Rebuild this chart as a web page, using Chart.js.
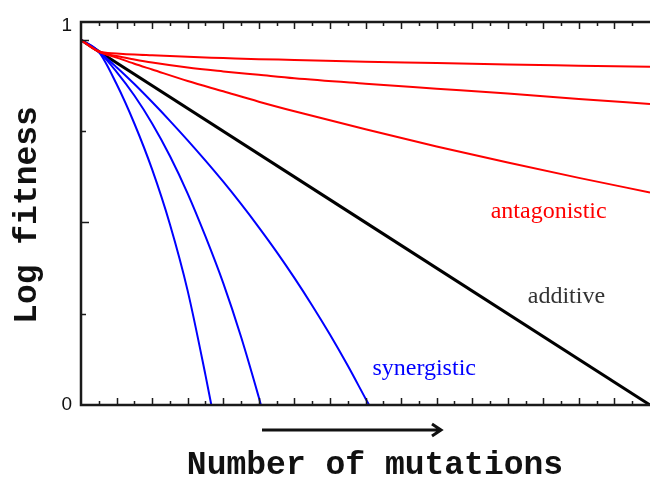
<!DOCTYPE html>
<html>
<head>
<meta charset="utf-8">
<script src="https://cdn.jsdelivr.net/npm/chart.js@4"></script>
<style>
  body { margin: 0; background: #fff; overflow: hidden; }
  #wrap { width: 650px; height: 477px; position: relative; }
</style>
</head>
<body>
<div id="wrap"><canvas id="fitness"></canvas></div>
<script>
// log fitness vs number of mutations
const antagX      = [0, 1, 2, 3, 4, 6, 8, 10, 12, 16, 20, 24, 28, 32];
const antagWeak   = [0.953, 0.923, 0.918, 0.915, 0.913, 0.909, 0.906, 0.903, 0.901, 0.896, 0.893, 0.889, 0.886, 0.883];
const antagMid    = [0.953, 0.923, 0.911, 0.902, 0.894, 0.881, 0.871, 0.862, 0.853, 0.839, 0.826, 0.813, 0.799, 0.786];
const antagStrong = [0.953, 0.923, 0.907, 0.891, 0.876, 0.846, 0.819, 0.792, 0.767, 0.720, 0.675, 0.633, 0.593, 0.555];

const additiveX = [0, 32];
const additiveY = [0.953, 0];

const synStrongX = [0, 1, 2, 3, 4, 5, 6, 7, 7.33];
const synStrongY = [0.953, 0.922, 0.838, 0.735, 0.615, 0.472, 0.298, 0.078, 0];
const synMidX    = [0, 1, 2, 3, 4, 5, 6, 7, 8, 9, 10, 10.12];
const synMidY    = [0.953, 0.922, 0.870, 0.808, 0.735, 0.650, 0.552, 0.440, 0.318, 0.178, 0.020, 0];
const synWeakX   = [0, 1, 2, 3, 4, 5, 6, 7, 8, 9, 10, 11, 12, 13, 14, 15, 16, 16.2];
const synWeakY   = [0.953, 0.922, 0.882, 0.838, 0.791, 0.742, 0.691, 0.638, 0.583, 0.525, 0.464, 0.400, 0.332, 0.260, 0.184, 0.103, 0.017, 0];

const yTickLabels = ['0', '1'];
const yMinorTicks = [0.238, 0.477, 0.715, 0.953];
const curveLabels = ['antagonistic', 'additive', 'synergistic'];

const RED = '#ff0000';
const BLUE = '#0000ff';

const pts = (xs, ys) => xs.map((x, i) => ({ x: x, y: ys[i] }));

function line(xs, ys, color, width) {
  return {
    data: pts(xs, ys),
    borderColor: color,
    borderWidth: width,
    pointRadius: 0,
    cubicInterpolationMode: 'monotone',
    fill: false
  };
}

// frame, inward ticks, axis text and curve labels
const decorations = {
  id: 'decorations',
  afterDatasetsDraw(chart) {
    const { ctx, chartArea: a, scales: { x, y } } = chart;
    ctx.save();
    ctx.strokeStyle = '#1a1a1a';
    ctx.lineWidth = 2.5;
    ctx.beginPath();
    ctx.moveTo(a.right + 2, a.top);
    ctx.lineTo(a.left, a.top);
    ctx.lineTo(a.left, a.bottom);
    ctx.lineTo(a.right + 2, a.bottom);
    ctx.stroke();

    ctx.lineWidth = 1.5;
    ctx.beginPath();
    for (let v = 1; v < 32; v++) {
      const px = Math.round(x.getPixelForValue(v)) + 0.5;
      const len = v % 2 ? 4 : 7;
      ctx.moveTo(px, a.top);
      ctx.lineTo(px, a.top + len);
      ctx.moveTo(px, a.bottom);
      ctx.lineTo(px, a.bottom - len);
    }
    yMinorTicks.forEach((v, i) => {
      const py = Math.round(y.getPixelForValue(v)) + 0.5;
      const len = i % 2 ? 8 : 5;
      ctx.moveTo(a.left, py);
      ctx.lineTo(a.left + len, py);
    });
    ctx.stroke();

    ctx.fillStyle = '#111';
    ctx.font = '19px "Liberation Sans", Arial, sans-serif';
    ctx.textAlign = 'right';
    ctx.textBaseline = 'middle';
    ctx.fillText(yTickLabels[0], a.left - 9, y.getPixelForValue(0));
    ctx.fillText(yTickLabels[1], a.left - 9, y.getPixelForValue(1) + 4);

    ctx.font = 'bold 33px "Liberation Mono", "Courier New", monospace';
    ctx.textAlign = 'center';
    ctx.fillText('Number of mutations', 375, 466);
    ctx.save();
    ctx.translate(28, 215);
    ctx.rotate(-Math.PI / 2);
    ctx.fillText('Log fitness', 0, 0);
    ctx.restore();

    // direction arrow under the x axis
    ctx.strokeStyle = '#111';
    ctx.lineWidth = 3;
    ctx.beginPath();
    ctx.moveTo(262, 430);
    ctx.lineTo(441, 430);
    ctx.moveTo(432, 424);
    ctx.lineTo(441, 430);
    ctx.lineTo(432, 436);
    ctx.stroke();

    ctx.font = '24px "Liberation Serif", "Times New Roman", serif';
    ctx.fillStyle = RED;
    ctx.fillText(curveLabels[0], x.getPixelForValue(26.3), y.getPixelForValue(0.504));
    ctx.fillStyle = '#333';
    ctx.fillText(curveLabels[1], x.getPixelForValue(27.3), y.getPixelForValue(0.282));
    ctx.fillStyle = BLUE;
    ctx.fillText(curveLabels[2], x.getPixelForValue(19.3), y.getPixelForValue(0.094));
    ctx.restore();
  }
};

new Chart(document.getElementById('fitness'), {
  type: 'line',
  data: {
    datasets: [
      line(antagX, antagWeak, RED, 2),
      line(antagX, antagMid, RED, 2),
      line(antagX, antagStrong, RED, 2),
      line(synStrongX, synStrongY, BLUE, 2),
      line(synMidX, synMidY, BLUE, 2),
      line(synWeakX, synWeakY, BLUE, 2),
      line(additiveX, additiveY, '#000', 3)
    ]
  },
  options: {
    responsive: true,
    maintainAspectRatio: false,
    animation: false,
    layout: { padding: { left: 81, top: 22, right: 0, bottom: 72 } },
    plugins: { legend: { display: false }, tooltip: { enabled: false } },
    scales: {
      x: { type: 'linear', min: 0, max: 32, display: false },
      y: { type: 'linear', min: 0, max: 1, display: false }
    }
  },
  plugins: [decorations]
});
</script>
</body>
</html>
